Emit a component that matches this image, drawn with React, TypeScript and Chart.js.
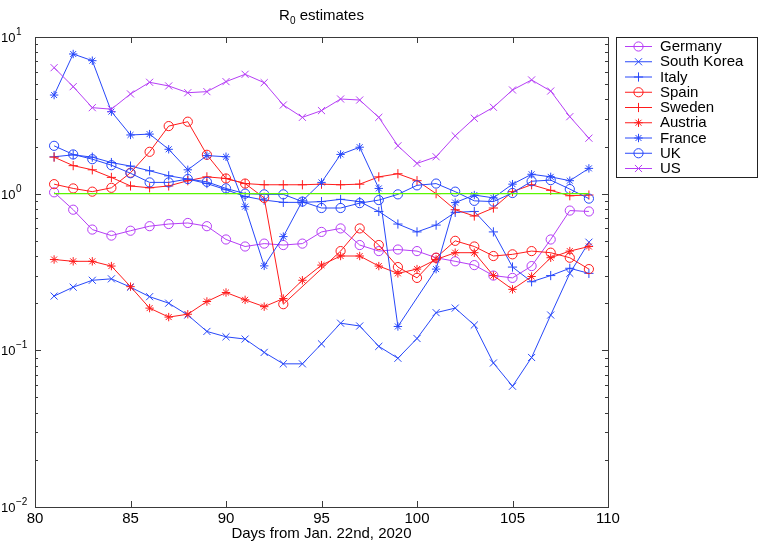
import React, { useEffect, useRef } from "react";
import { Chart, registerables } from "chart.js";

Chart.register(...registerables);

// ---------------- data ----------------
const days = [81, 82, 83, 84, 85, 86, 87, 88, 89, 90, 91, 92, 93, 94, 95, 96, 97, 98, 99, 100, 101, 102, 103, 104, 105, 106, 107, 108, 109];

const germany = [1.02, 0.79, 0.59, 0.54, 0.58, 0.62, 0.64, 0.65, 0.62, 0.51, 0.46, 0.48, 0.47, 0.48, 0.57, 0.6, 0.47, 0.43, 0.44, 0.43, 0.39, 0.37, 0.35, 0.3, 0.29, 0.345, 0.51, 0.78, 0.77];
const southKorea = [0.222, 0.253, 0.28, 0.286, 0.253, 0.22, 0.2, 0.168, 0.132, 0.122, 0.118, 0.097, 0.082, 0.082, 0.11, 0.149, 0.143, 0.106, 0.089, 0.119, 0.174, 0.186, 0.145, 0.083, 0.059, 0.09, 0.168, 0.31, 0.49];
const italy = [1.72, 1.77, 1.71, 1.58, 1.5, 1.4, 1.3, 1.24, 1.16, 1.06, 0.96, 0.91, 0.88, 0.88, 0.89, 0.92, 0.89, 0.77, 0.64, 0.57, 0.63, 0.76, 0.77, 0.57, 0.34, 0.274, 0.3, 0.334, 0.31];
const spain = [1.15, 1.08, 1.03, 1.09, 1.36, 1.85, 2.7, 2.88, 1.77, 1.25, 1.16, 0.94, 0.197, null, null, 0.43, 0.6, 0.47, 0.34, 0.29, 0.39, 0.5, 0.46, 0.4, 0.41, 0.43, 0.42, 0.39, 0.33];
const sweden = [1.71, 1.51, 1.42, 1.27, 1.12, 1.09, 1.12, 1.21, 1.28, 1.25, 1.16, 1.14, 1.14, 1.14, 1.15, 1.14, 1.15, 1.28, 1.34, 1.21, 1.0, 0.79, 0.72, 0.81, 1.03, 1.14, 1.05, 0.97, 0.98];
const austria = [0.38, 0.37, 0.37, 0.345, 0.255, 0.186, 0.163, 0.17, 0.205, 0.234, 0.21, 0.19, 0.214, 0.28, 0.35, 0.4, 0.4, 0.345, 0.31, 0.33, 0.38, 0.42, 0.42, 0.3, 0.245, 0.296, 0.39, 0.43, 0.46];
const france = [4.26, 7.79, 7.06, 3.34, 2.37, 2.4, 1.92, 1.42, 1.75, 1.72, 0.826, 0.346, 0.532, 0.9, 1.18, 1.78, 1.98, 1.08, 0.142, null, 0.33, 0.877, 0.98, 0.94, 1.15, 1.33, 1.28, 1.21, 1.45];
const uk = [2.02, 1.78, 1.66, 1.52, 1.35, 1.18, 1.18, 1.24, 1.19, 1.08, 1.0, 0.99, 0.99, 0.89, 0.81, 0.81, 0.87, 0.91, 0.99, 1.13, 1.16, 1.03, 0.9, 0.89, 1.01, 1.2, 1.22, 1.07, 0.93];
const us = [6.37, 4.82, 3.54, 3.46, 4.33, 5.14, 4.87, 4.41, 4.48, 5.19, 5.78, 5.11, 3.68, 3.07, 3.39, 4.02, 3.96, 3.07, 2.02, 1.56, 1.72, 2.34, 3.03, 3.56, 4.59, 5.32, 4.52, 3.1, 2.26];

const seriesNames = ["Germany", "South Korea", "Italy", "Spain", "Sweden", "Austria", "France", "UK", "US"];
const seriesValues = [germany, southKorea, italy, spain, sweden, austria, france, uk, us];

const referenceValue = 1;
const xTicks = [80, 85, 90, 95, 100, 105, 110];
const yDecades = [-2, -1, 0, 1];
const titleMain = "R";
const titleSub = "0";
const titleRest = " estimates";
const xTitle = "Days from Jan. 22nd, 2020";

// ---------------- styles ----------------
const BLUE = "rgb(40,72,250)";
const RED = "rgb(255,28,28)";
const PURPLE = "rgb(182,62,246)";
const GREEN = "rgb(90,245,0)";
const FONT = '"Liberation Sans", Arial, Helvetica, sans-serif';

const seriesStyle = [
  { color: PURPLE, marker: "circle", r: 4.6 },
  { color: BLUE, marker: "crossRot", r: 5 },
  { color: BLUE, marker: "cross", r: 4.6 },
  { color: RED, marker: "circle", r: 4.6 },
  { color: RED, marker: "cross", r: 4.6 },
  { color: RED, marker: "star", r: 4.2 },
  { color: BLUE, marker: "star", r: 4.2 },
  { color: BLUE, marker: "circle", r: 4.6 },
  { color: PURPLE, marker: "crossRot", r: 5 },
];

function drawMarker(ctx: CanvasRenderingContext2D, marker: string, x: number, y: number, r: number) {
  ctx.beginPath();
  if (marker === "circle") {
    ctx.arc(x, y, r, 0, Math.PI * 2);
  } else {
    const d = r * Math.SQRT1_2;
    if (marker === "cross" || marker === "star") {
      ctx.moveTo(x - r, y);
      ctx.lineTo(x + r, y);
      ctx.moveTo(x, y - r);
      ctx.lineTo(x, y + r);
    }
    if (marker === "crossRot" || marker === "star") {
      ctx.moveTo(x - d, y - d);
      ctx.lineTo(x + d, y + d);
      ctx.moveTo(x - d, y + d);
      ctx.lineTo(x + d, y - d);
    }
  }
  ctx.stroke();
}

const decorPlugin = {
  id: "decor",
  beforeDraw(chart: any) {
    const { ctx, width, height } = chart;
    ctx.save();
    ctx.fillStyle = "#ffffff";
    ctx.fillRect(0, 0, width, height);
    ctx.restore();
  },
  afterDraw(chart: any) {
    const { ctx, chartArea, scales } = chart;
    const { left, right, top, bottom } = chartArea;
    const xs = scales.x;
    const ys = scales.y;
    ctx.save();

    // axes box
    ctx.strokeStyle = "#3a3a3a";
    ctx.lineWidth = 1;
    ctx.strokeRect(Math.round(left) + 0.5, Math.round(top) + 0.5, Math.round(right - left), Math.round(bottom - top));

    // x ticks (inward, bottom and top)
    ctx.beginPath();
    xTicks.forEach((t) => {
      const px = Math.round(xs.getPixelForValue(t)) + 0.5;
      ctx.moveTo(px, bottom);
      ctx.lineTo(px, bottom - 6);
      ctx.moveTo(px, top);
      ctx.lineTo(px, top + 6);
    });
    // y ticks (major + minor, inward, left and right)
    yDecades.forEach((d) => {
      const base = Math.pow(10, d);
      const py = Math.round(ys.getPixelForValue(base)) + 0.5;
      ctx.moveTo(left, py);
      ctx.lineTo(left + 6, py);
      ctx.moveTo(right, py);
      ctx.lineTo(right - 6, py);
      if (d < yDecades[yDecades.length - 1]) {
        for (let k = 2; k <= 9; k++) {
          const pm = Math.round(ys.getPixelForValue(k * base)) + 0.5;
          ctx.moveTo(left, pm);
          ctx.lineTo(left + 3, pm);
          ctx.moveTo(right, pm);
          ctx.lineTo(right - 3, pm);
        }
      }
    });
    ctx.stroke();

    // y tick labels: 10^d
    ctx.fillStyle = "#000";
    ctx.textAlign = "left";
    ctx.textBaseline = "alphabetic";
    yDecades.forEach((d) => {
      const py = ys.getPixelForValue(Math.pow(10, d));
      ctx.font = `13px ${FONT}`;
      ctx.fillText("10", 1, py + 5);
      const w = ctx.measureText("10").width;
      ctx.font = `10px ${FONT}`;
      ctx.fillText(d < 0 ? "\u2212" + String(-d) : String(d), 1 + w + 0.5, py - 2);
    });

    // title R_0 estimates
    const cx = (left + right) / 2;
    ctx.font = `15px ${FONT}`;
    const wR = ctx.measureText(titleMain).width;
    const wRest = ctx.measureText(titleRest).width;
    ctx.font = `10px ${FONT}`;
    const wSub = ctx.measureText(titleSub).width;
    const total = wR + wSub + wRest;
    let tx = cx - total / 2;
    const ty = 20;
    ctx.font = `15px ${FONT}`;
    ctx.fillText(titleMain, tx, ty);
    tx += wR;
    ctx.font = `10px ${FONT}`;
    ctx.fillText(titleSub, tx, ty + 4);
    tx += wSub;
    ctx.font = `15px ${FONT}`;
    ctx.fillText(titleRest, tx, ty);

    // legend
    const lx = 616.5;
    const ly = 37.5;
    const lw = 141;
    const lh = 140;
    ctx.fillStyle = "#ffffff";
    ctx.fillRect(lx, ly, lw, lh);
    ctx.strokeStyle = "#222";
    ctx.strokeRect(lx, ly, lw, lh);
    ctx.textBaseline = "middle";
    ctx.font = `15px ${FONT}`;
    seriesNames.forEach((name, i) => {
      const st = seriesStyle[i];
      const yy = 46.5 + i * 15.25;
      ctx.strokeStyle = st.color;
      ctx.lineWidth = 1;
      ctx.beginPath();
      ctx.moveTo(625, yy);
      ctx.lineTo(652, yy);
      ctx.stroke();
      drawMarker(ctx, st.marker, 638.5, yy, st.r);
      ctx.fillStyle = "#000";
      ctx.fillText(name, 660, yy + 0.5);
    });

    ctx.restore();
  },
};

export default function App() {
  const canvasRef = useRef<HTMLCanvasElement | null>(null);

  useEffect(() => {
    if (!canvasRef.current) return;
    const datasets: any[] = seriesNames.map((name, i) => {
      const st = seriesStyle[i];
      return {
        label: name,
        data: days.map((d, j) => ({ x: d, y: seriesValues[i][j] })),
        borderColor: st.color,
        borderWidth: 1,
        pointStyle: st.marker,
        pointRadius: st.r,
        pointBorderColor: st.color,
        pointBorderWidth: 1,
        pointBackgroundColor: "rgba(0,0,0,0)",
        backgroundColor: "rgba(0,0,0,0)",
        fill: false,
        spanGaps: true,
        tension: 0,
        order: 10 - i,
      };
    });
    datasets.push({
      label: "reference",
      data: [
        { x: days[0], y: referenceValue },
        { x: days[days.length - 1], y: referenceValue },
      ],
      borderColor: GREEN,
      borderWidth: 1.2,
      pointRadius: 0,
      fill: false,
      order: 0,
    });

    const chart = new Chart(canvasRef.current, {
      type: "line",
      data: { datasets },
      options: {
        responsive: false,
        animation: false,
        events: [],
        layout: { padding: { left: 0, right: 155, top: 37, bottom: 0 } },
        plugins: {
          legend: { display: false },
          tooltip: { enabled: false },
          title: { display: false },
        },
        scales: {
          x: {
            type: "linear",
            min: 80,
            max: 110,
            grid: { display: false, drawTicks: false },
            border: { display: false },
            afterBuildTicks: (scale: any) => {
              scale.ticks = xTicks.map((v) => ({ value: v }));
            },
            afterFit: (scale: any) => {
              scale.height = 38;
            },
            ticks: {
              autoSkip: false,
              maxRotation: 0,
              padding: 3,
              color: "#000",
              font: { family: FONT, size: 15 },
              callback: (v: any) => String(v),
            },
            title: {
              display: true,
              text: xTitle,
              color: "#000",
              font: { family: FONT, size: 15 },
              padding: { top: 0, bottom: 2 },
            },
          },
          y: {
            type: "logarithmic",
            min: 0.01,
            max: 10,
            grid: { display: false, drawTicks: false },
            border: { display: false },
            ticks: { display: false },
            afterFit: (scale: any) => {
              scale.width = 35;
            },
          },
        },
      },
      plugins: [decorPlugin],
    } as any);

    return () => {
      chart.destroy();
    };
  }, []);

  return (
    <div style={{ position: "fixed", left: 0, top: 0, width: 763, height: 545, background: "#fff" }}>
      <canvas ref={canvasRef} width={763} height={545} style={{ display: "block", width: 763, height: 545 }} />
    </div>
  );
}
